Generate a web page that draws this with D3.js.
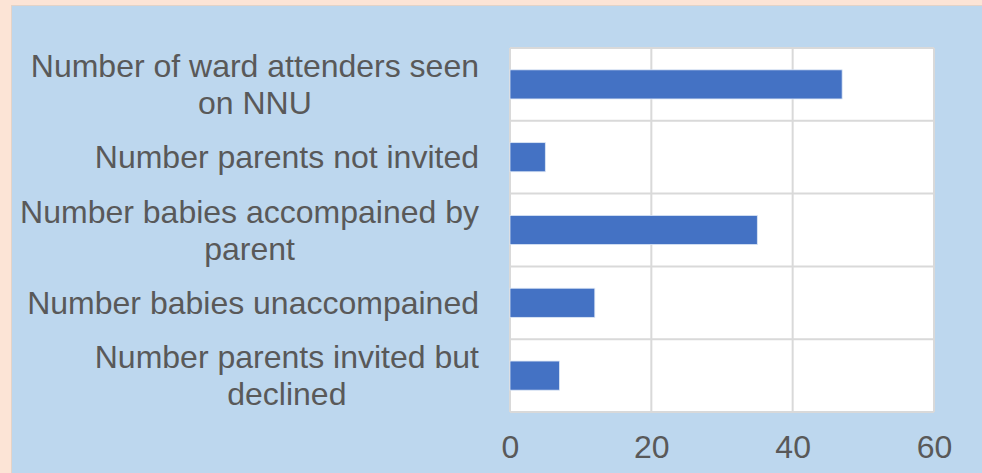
<!DOCTYPE html>
<html>
<head>
<meta charset="utf-8" />
<script src="https://d3js.org/d3.v7.min.js"></script>
<style>
    body { margin: 0; background: #fce4d6; }
    svg { display: block; font-family: "Liberation Sans", Arial, sans-serif; }
</style>
</head>
<body>
<div id="chart"></div>
<script>
    // data
    var categories = [
        "Number of ward attenders seen on NNU",
        "Number parents not invited",
        "Number babies accompained by parent",
        "Number babies unaccompained",
        "Number parents invited but declined"
    ];
    var values = [47, 5, 35, 12, 7];
    var ticks = [0, 20, 40, 60];

    var width = 982, height = 473;
    var plot = {left: 510, right: 934, top: 48, bottom: 412};
    var textColor = '#595959';
    var fontSize = '32px';

    var svg = d3.select('#chart').append('svg')
        .attr('width', width)
        .attr('height', height);

    // blue chart panel on the peach page
    svg.append('rect')
        .attr('x', 11.5).attr('y', 5.5)
        .attr('width', width).attr('height', height)
        .attr('fill', '#bdd7ee')
        .attr('stroke', '#e3d3c8');

    var x = d3.scaleLinear()
        .domain([0, 60])
        .range([plot.left, plot.right]);

    var y = d3.scaleBand()
        .domain(categories)
        .range([plot.top, plot.bottom])
        .padding(0);

    svg.append('rect')
        .attr('x', plot.left).attr('y', plot.top)
        .attr('width', plot.right - plot.left)
        .attr('height', plot.bottom - plot.top)
        .attr('fill', '#fff');

    // vertical gridlines
    svg.selectAll('.vgrid')
        .data(ticks)
        .enter().append('line')
        .attr('class', 'vgrid')
        .attr('x1', function(d) { return x(d); })
        .attr('x2', function(d) { return x(d); })
        .attr('y1', plot.top).attr('y2', plot.bottom)
        .attr('stroke', '#d9d9d9')
        .attr('stroke-width', 2);

    // horizontal lines between categories
    var bounds = categories.map(function(c) { return y(c); }).concat([plot.bottom]);
    svg.selectAll('.hgrid')
        .data(bounds)
        .enter().append('line')
        .attr('class', 'hgrid')
        .attr('x1', plot.left).attr('x2', plot.right)
        .attr('y1', function(d) { return d; })
        .attr('y2', function(d) { return d; })
        .attr('stroke', '#d9d9d9')
        .attr('stroke-width', 2);

    var barH = y.bandwidth() * 0.4;
    svg.selectAll('.bar')
        .data(values)
        .enter().append('rect')
        .attr('class', 'bar')
        .attr('x', x(0))
        .attr('y', function(d, i) { return y(categories[i]) + (y.bandwidth() - barH) / 2; })
        .attr('width', function(d) { return x(d) - x(0); })
        .attr('height', barH)
        .attr('fill', '#4472c4')
        .attr('stroke', '#dce6f5')
        .attr('stroke-width', 0.8);

    // x axis labels
    var xAxis = svg.append('g')
        .attr('transform', 'translate(0,' + plot.bottom + ')')
        .call(d3.axisBottom(x).tickValues(ticks).tickSize(0).tickPadding(23));
    xAxis.select('.domain').remove();
    xAxis.selectAll('text')
        .attr('fill', textColor)
        .style('font-size', fontSize)
        .style('font-family', '"Liberation Sans", Arial, sans-serif');

    // category labels, wrapped and centred in a block that sits against the plot
    var maxW = 470, lineH = 37, labelRight = 479;
    categories.forEach(function(c) {
        var words = c.split(' ');
        var g = svg.append('g');
        var probe = g.append('text').style('font-size', fontSize);
        var lines = [], cur = [];
        words.forEach(function(w) {
            var test = cur.concat([w]).join(' ');
            probe.text(test);
            if (probe.node().getComputedTextLength() > maxW && cur.length) {
                lines.push(cur.join(' '));
                cur = [w];
            } else {
                cur.push(w);
            }
        });
        lines.push(cur.join(' '));
        probe.remove();

        var t = g.append('text')
            .attr('fill', textColor)
            .style('font-size', fontSize)
            .attr('text-anchor', 'middle');
        lines.forEach(function(l, i) {
            t.append('tspan').attr('x', 0).attr('dy', i === 0 ? 0 : lineH).text(l);
        });
        var bw = t.node().getBBox().width;
        var cy = y(c) + y.bandwidth() / 2;
        var firstBase = cy - (lines.length - 1) * lineH / 2 + 11;
        g.attr('transform', 'translate(' + (labelRight - bw / 2) + ',' + firstBase + ')');
    });
</script>
</body>
</html>
